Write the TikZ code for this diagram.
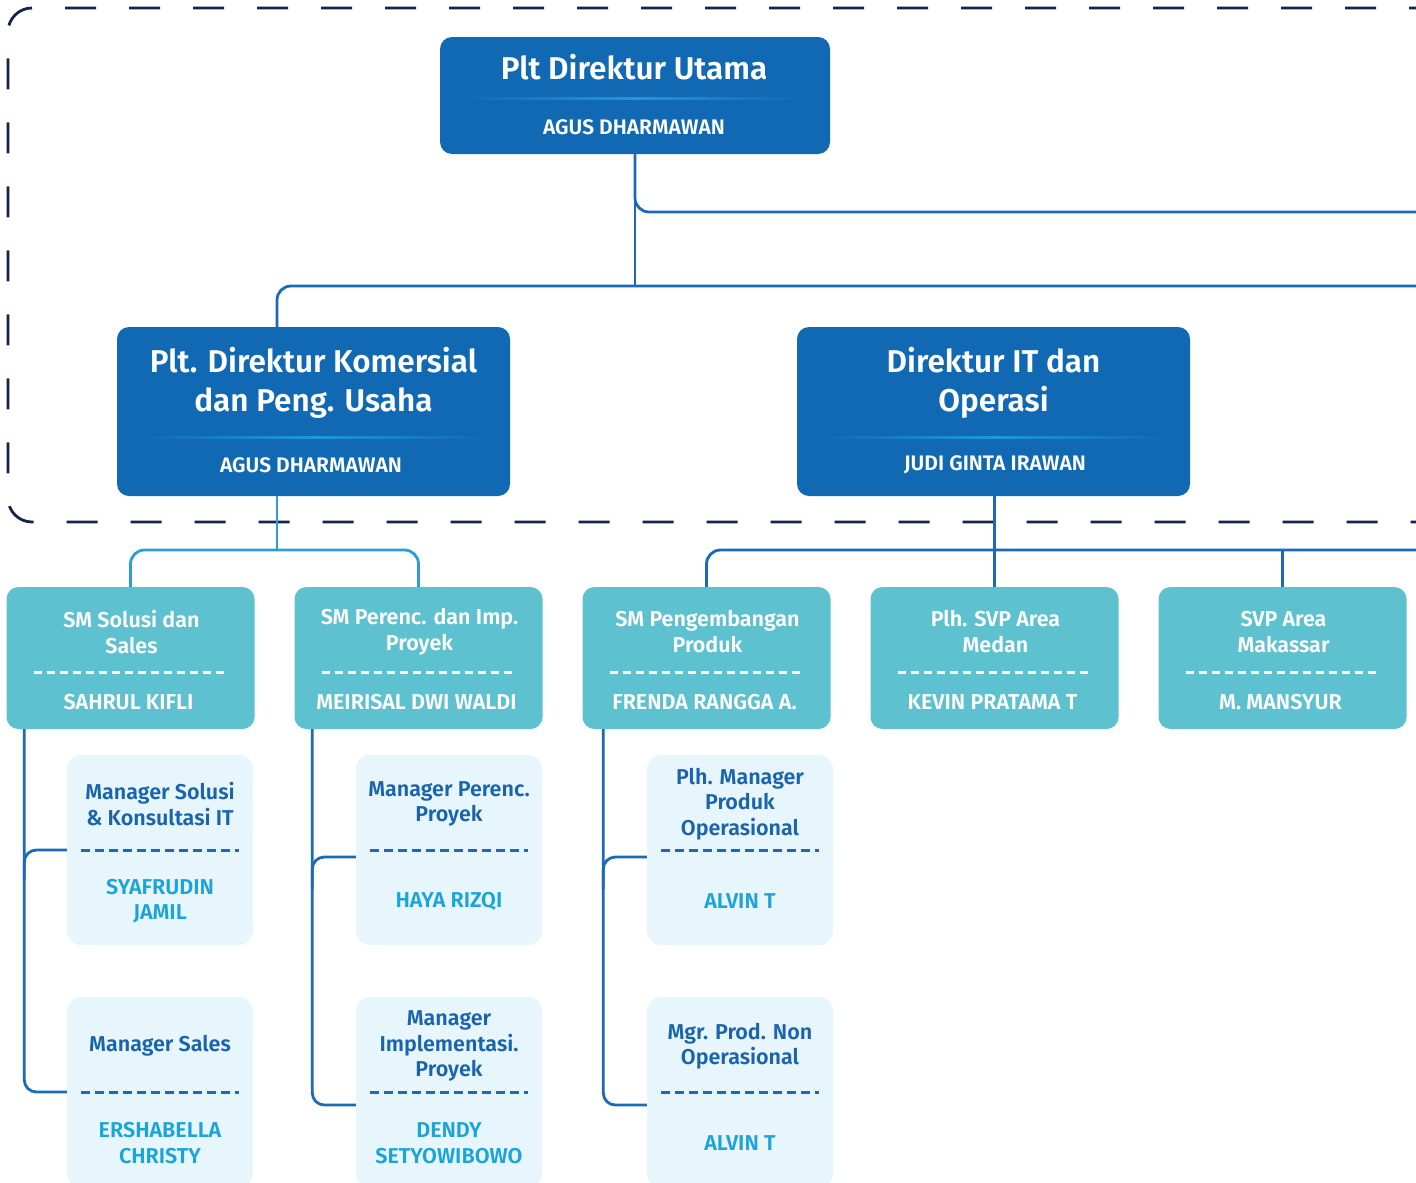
\documentclass[tikz,border=0pt]{standalone}
\usepackage{fontspec}
\setmainfont{Fira Sans}[BoldFont={Fira Sans SemiBold}]
\usetikzlibrary{positioning,calc}
\definecolor{dirblue}{HTML}{1169B4}
\definecolor{smteal}{HTML}{5EC1CF}
\definecolor{mgrfill}{HTML}{E7F5FC}
\definecolor{mgrtext}{HTML}{1A64AE}
\definecolor{linkblue}{HTML}{1A6AB5}
\definecolor{linklight}{HTML}{2A9ED9}
\definecolor{namecyan}{HTML}{1BA3DB}
\definecolor{framenavy}{HTML}{17244A}
\definecolor{sepglow}{HTML}{1E9AD6}
\tikzset{
  dirbox/.style={fill=dirblue, rounded corners=12pt, inner sep=0pt},
  dirttl/.style={text=white, font=\bfseries\fontsize{31.5}{39}\selectfont, align=center, inner sep=0pt},
  dirname/.style={text=white, font=\bfseries\fontsize{21}{24}\selectfont, inner sep=0pt},
  smbox/.style={fill=smteal, rounded corners=12pt, minimum width=248pt, minimum height=142pt, inner sep=0pt},
  smttl/.style={text=white, font=\bfseries\fontsize{21.5}{26}\selectfont, align=center, inner sep=0pt},
  smname/.style={text=white, font=\bfseries\fontsize{21.5}{24}\selectfont, inner sep=0pt},
  smsep/.style={draw=white, line width=3pt, dash pattern=on 8pt off 5pt},
  mgrbox/.style={fill=mgrfill, rounded corners=14pt, minimum width=186pt, minimum height=190pt, inner sep=0pt},
  mgrttl/.style={text=mgrtext, font=\bfseries\fontsize{21.5}{25.5}\selectfont, align=center, inner sep=0pt},
  mgrname/.style={text=namecyan, font=\bfseries\fontsize{21.5}{25.5}\selectfont, align=center, inner sep=0pt},
  mgrsep/.style={draw=linkblue, line width=3pt, dash pattern=on 9pt off 5pt},
  sepline/.style={left color=dirblue, right color=dirblue, middle color=sepglow},
  link/.style={draw=linkblue, line width=2.8pt},
  linklt/.style={draw=linklight, line width=2.8pt},
  frame/.style={draw=framenavy, line width=2.8pt, dash pattern=on 31pt off 33pt, rounded corners=24pt},
}
\begin{document}
\begin{tikzpicture}[x=1pt, y=-1pt]
\clip (0,0) rectangle (1416,1183);
\fill[white] (0,0) rectangle (1416,1183);
% board frame
\draw[frame] (1440,8) -- (8,8) -- (8,522) -- (1440,522);

% directors
\node[dirbox, minimum width=390pt, minimum height=117pt] (utama) at (635,95.5) {};
\node[dirttl] at (634,67) {Plt Direktur Utama};
\shade[sepline] (465,97) rectangle (802,99.5);
\node[dirname] at (634,127) {AGUS DHARMAWAN};

\node[dirbox, minimum width=393pt, minimum height=169pt] (komersial) at (313.5,411.5) {};
\node[dirttl] at (313.5,383) {Plt. Direktur Komersial\\dan Peng. Usaha};
\shade[sepline] (142,436) rectangle (485,438.5);
\node[dirname] at (311,465) {AGUS DHARMAWAN};

\node[dirbox, minimum width=393pt, minimum height=169pt] (it) at (993.5,411.5) {};
\node[dirttl] at (993.5,383) {Direktur IT dan\\Operasi};
\shade[sepline] (822,436) rectangle (1165,438.5);
\node[dirname] at (995,465) {JUDI GINTA IRAWAN};

% senior managers
\foreach \i/\ttl/\nm in {0/{SM Solusi dan\\Sales}/{SAHRUL KIFLI},
    1/{SM Perenc. dan Imp.\\Proyek}/{MEIRISAL DWI WALDI},
    2/{SM Pengembangan\\Produk}/{FRENDA RANGGA A.},
    3/{Plh. SVP Area\\Medan}/{KEVIN PRATAMA T},
    4/{SVP Area\\Makassar}/{M. MANSYUR}}{
  \node[smbox] (sm\i) at (130.5+288*\i,658) {};
  \node[smttl] at (131.5+288*\i,632) {\ttl};
  \draw[smsep] ($(sm\i.center)+(-97,14)$) -- ($(sm\i.center)+(97,14)$);
  \node[smname] at (128.5+288*\i,702) {\nm};
}

% managers
\foreach \n/\cx/\cy/\ttl/\nm in {s1/160/850/{Manager Solusi\\\& Konsultasi IT}/{SYAFRUDIN\\JAMIL},
    s2/160/1092/{Manager Sales}/{ERSHABELLA\\CHRISTY},
    p1/449/850/{Manager Perenc.\\Proyek}/{HAYA RIZQI},
    p2/449/1092/{Manager\\Implementasi.\\Proyek}/{DENDY\\SETYOWIBOWO},
    d1/740/850/{Plh. Manager\\Produk\\Operasional}/{ALVIN T},
    d2/740/1092/{Mgr. Prod. Non\\Operasional}/{ALVIN T}}{
  \node[mgrbox] (m\n) at (\cx,\cy) {};
  \node[mgrttl] at (\cx,\cy-46) {\ttl};
  \draw[mgrsep] (\cx-79,\cy) -- (\cx+79,\cy);
  \node[mgrname] at (\cx,\cy+51) {\nm};
}

% connectors
\coordinate (kin) at (277,327);
\coordinate (kout) at (277,496);
\coordinate (busr) at (1420,286);
\coordinate (topr) at (1420,212);
\coordinate (smr) at (1420,550);
\draw[link] (utama.south) -- (utama.south |- busr);
\draw[link, rounded corners=14pt] (utama.south) |- (topr);
\draw[link, rounded corners=14pt] (kin) |- (busr);
\draw[link] (it.north -| sm3.north) -- (it.north -| sm3.north |- busr);
\draw[linklt] (kout) -- (kout |- smr);
\draw[linklt, rounded corners=14pt] (sm0.north) |- (kout |- smr) -| (sm1.north);
\draw[link] (it.south -| sm3.north) -- (sm3.north);
\draw[link, rounded corners=14pt] (sm2.north) |- (smr);
\draw[link] (sm4.north) -- (sm4.north |- smr);

\coordinate (c0) at ([xshift=18pt]sm0.south west);
\coordinate (c1) at ([xshift=18pt]sm1.south west);
\coordinate (c2) at ([xshift=21pt]sm2.south west);
\draw[link, rounded corners=12pt] (c0) |- (ms2.west);
\draw[link, rounded corners=12pt] (ms1.west) -| ([yshift=-150pt]c0);
\draw[link, rounded corners=12pt] (c1) |- ([yshift=-13pt]mp2.west);
\draw[link, rounded corners=12pt] ([yshift=-7pt]mp1.west) -| ([yshift=-160pt]c1);
\draw[link, rounded corners=12pt] (c2) |- ([yshift=-13pt]md2.west);
\draw[link, rounded corners=12pt] ([yshift=-7pt]md1.west) -| ([yshift=-160pt]c2);
\end{tikzpicture}
\end{document}
